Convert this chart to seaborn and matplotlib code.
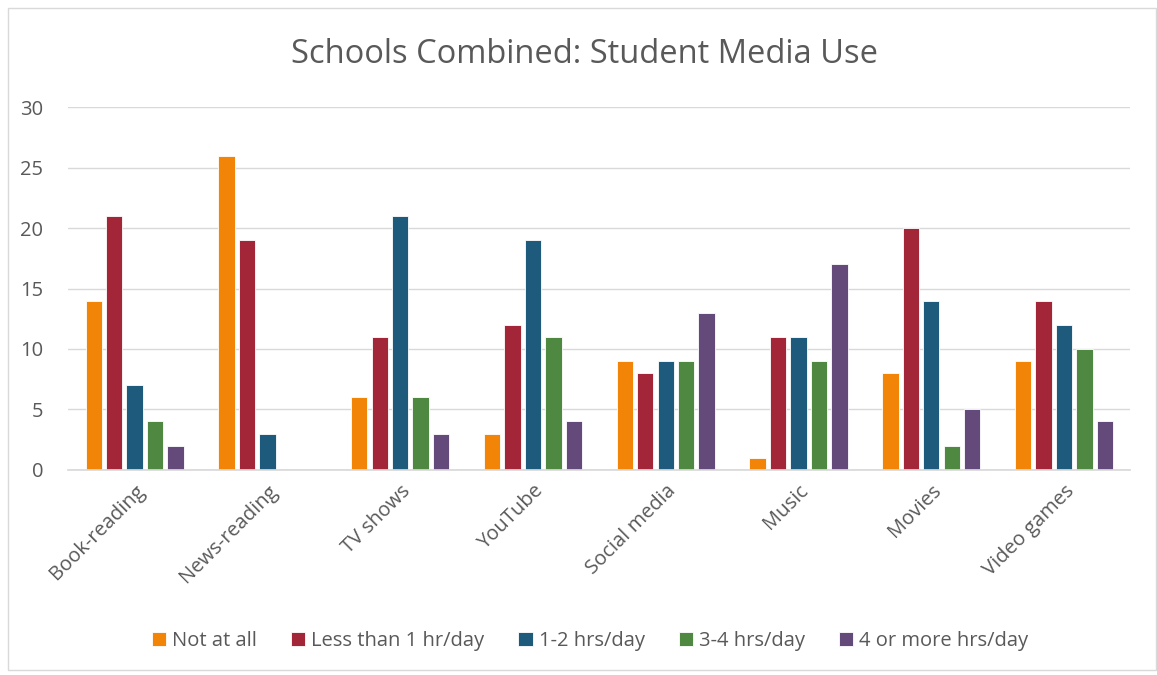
import pandas as pd
import matplotlib.pyplot as plt
import seaborn as sns
from matplotlib.patches import Rectangle

categories = ['Book-reading', 'News-reading', 'TV shows', 'YouTube',
              'Social media', 'Music', 'Movies', 'Video games']
series = ['Not at all', 'Less than 1 hr/day', '1-2 hrs/day', '3-4 hrs/day', '4 or more hrs/day']
not_at_all = [14, 26, 6, 3, 9, 1, 8, 9]
less_1 = [21, 19, 11, 12, 8, 11, 20, 14]
hrs_1_2 = [7, 3, 21, 19, 9, 11, 14, 12]
hrs_3_4 = [4, 0, 6, 11, 9, 9, 2, 10]
hrs_4_plus = [2, 0, 3, 4, 13, 17, 5, 4]
colors = ['#F28508', '#A32638', '#1D5A7C', '#4F8941', '#644A7B']

rows = []
for name, vals in zip(series, [not_at_all, less_1, hrs_1_2, hrs_3_4, hrs_4_plus]):
    for c, v in zip(categories, vals):
        rows.append({'Category': c, 'Usage': name, 'Count': v})
df = pd.DataFrame(rows)

sns.set_theme(style='white')
plt.rcParams['font.family'] = ['Open Sans', 'DejaVu Sans']
txt = '#595959'

fig = plt.figure(figsize=(11.57, 6.75), dpi=100)
ax = fig.add_axes([0.059, 0.304, 0.918, 0.537])
sns.barplot(data=df, x='Category', y='Count', hue='Usage', palette=colors,
            hue_order=series, order=categories, width=0.77, gap=0.2,
            saturation=1, edgecolor='white', linewidth=0.6, ax=ax)

ax.set_ylim(0, 30)
ax.set_yticks(range(0, 31, 5))
ax.yaxis.grid(True, color='#D9D9D9', linewidth=1)
ax.set_axisbelow(True)
for s in ['top', 'right', 'left']:
    ax.spines[s].set_visible(False)
ax.spines['bottom'].set_color('#D9D9D9')
ax.set_xlabel('')
ax.set_ylabel('')
ax.tick_params(axis='y', labelsize=14.5, colors=txt, length=0, pad=18)
ax.tick_params(axis='x', labelsize=14.5, colors=txt, length=0, pad=8)
plt.setp(ax.get_xticklabels(), rotation=45, ha='right', rotation_mode='anchor')

fig.suptitle('Schools Combined: Student Media Use', x=0.505, y=0.943,
             fontsize=23.5, color=txt)

handles, labels = ax.get_legend_handles_labels()
ax.legend_.remove()
leg = fig.legend(handles, labels, loc='center', bbox_to_anchor=(0.51, 0.05),
                 ncol=5, frameon=False, fontsize=14.5, handlelength=0.7,
                 handleheight=0.7, handletextpad=0.3, columnspacing=1.7)
for t in leg.get_texts():
    t.set_color(txt)

fig.patches.append(Rectangle((0.007, 0.008), 0.992, 0.98, transform=fig.transFigure,
                             fill=False, edgecolor='#D9D9D9', linewidth=1))

fig.savefig('out.png', dpi=100)
